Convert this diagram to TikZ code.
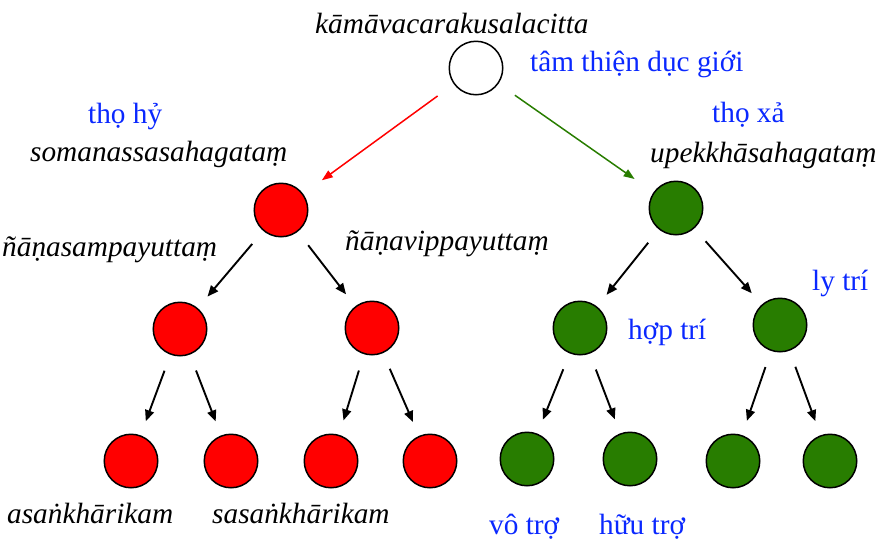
\documentclass[tikz,border=0pt]{standalone}
\usepackage{fontspec}
\setmainfont{Liberation Serif}
\usetikzlibrary{arrows.meta}
\definecolor{leafgreen}{RGB}{40,125,0}
\definecolor{viblue}{RGB}{10,40,255}
\begin{document}
\begin{tikzpicture}[x=1pt, y=-1pt,
	  ball/.style={circle, draw=black, line width=1.5pt, minimum size=53.5pt, inner sep=0pt},
	  redball/.style={ball, fill=red},
	  greenball/.style={ball, fill=leafgreen},
	  link/.style={-{Triangle[length=11pt,width=9pt]}, line width=1.9pt, shorten <=17pt, shorten >=15pt},
	  toplink/.style={-{Triangle[length=11pt,width=8pt]}, line width=1.5pt, shorten <=20pt, shorten >=23pt},
	  pali/.style={font=\fontsize{29.3}{33}\selectfont\itshape, inner sep=0pt, anchor=base west},
	  viet/.style={font=\fontsize{29.3}{33}\selectfont, text=viblue, inner sep=0pt, anchor=base west}]
	  \useasboundingbox (0,0) rectangle (878,550);
	  % circles
	  \node[ball, fill=white] (root) at (476,68) {};
	  \node[redball] (hy) at (281,210) {};
	  \node[greenball] (xa) at (676,208) {};
	  \node[redball] (hyA) at (180,329) {};
	  \node[redball] (hyB) at (372,328) {};
	  \node[greenball] (xaA) at (580,328) {};
	  \node[greenball] (xaB) at (780,325) {};
	  \node[redball] (hyA1) at (131,461) {};
	  \node[redball] (hyA2) at (231,461) {};
	  \node[redball] (hyB1) at (331,461) {};
	  \node[redball] (hyB2) at (430,461) {};
	  \node[greenball] (xaA1) at (527,459) {};
	  \node[greenball] (xaA2) at (630,459) {};
	  \node[greenball] (xaB1) at (733,461) {};
	  \node[greenball] (xaB2) at (830,461) {};
	  % arrows
	  \draw[toplink, red] (root) -- (hy);
	  \draw[toplink, leafgreen] (root) -- (xa);
	  \draw[link] (hy) -- (hyA);
	  \draw[link] (hy) -- (hyB);
	  \draw[link] (xa) -- (xaA);
	  \draw[link] (xa) -- (xaB);
	  \draw[link] (hyA) -- (hyA1);
	  \draw[link] (hyA) -- (hyA2);
	  \draw[link] (hyB) -- (hyB1);
	  \draw[link] (hyB) -- (hyB2);
	  \draw[link] (xaA) -- (xaA1);
	  \draw[link] (xaA) -- (xaA2);
	  \draw[link] (xaB) -- (xaB1);
	  \draw[link] (xaB) -- (xaB2);
	  % labels
	  \node[pali] (kama) at (315,33) {kāmāvacarakusalacitta};
	  \node[viet] (tam) at (530,71) {tâm thiện dục giới};
	  \node[viet] (hyvi) at (88,123) {thọ hỷ};
	  \node[pali] (hypa) at (30,161) {somanassasahagataṃ};
	  \node[viet] (xavi) at (712,122) {thọ xả};
	  \node[pali] (xapa) at (650,162) {upekkhāsahagataṃ};
	  \node[pali] (sam) at (2,256) {ñāṇasampayuttaṃ};
	  \node[pali] (vip) at (345,250) {ñāṇavippayuttaṃ};
	  \node[viet] (hop) at (628,339) {hợp trí};
	  \node[viet] (ly) at (812,290) {ly trí};
	  \node[pali] (asa) at (7,523) {asaṅkhārikam};
	  \node[pali] (sasa) at (212,523) {sasaṅkhārikam};
	  \node[viet] (vo) at (489,534) {vô trợ};
	  \node[viet] (huu) at (599,534) {hữu trợ};
	\end{tikzpicture}
\end{document}
